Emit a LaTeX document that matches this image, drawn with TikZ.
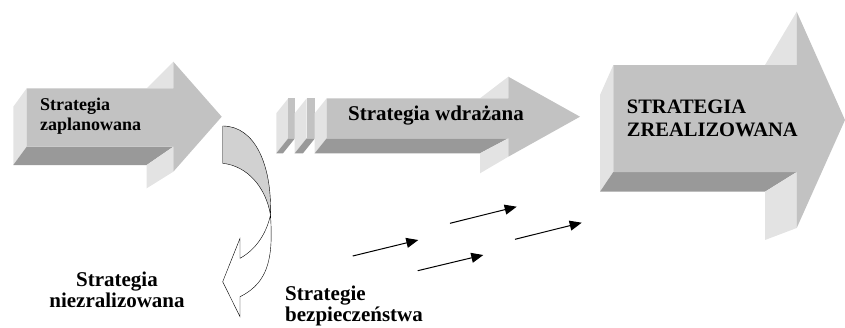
\documentclass[tikz,border=0pt]{standalone}
\usepackage{fontspec}
\setmainfont{Liberation Serif}
\usetikzlibrary{arrows.meta}
\definecolor{facegray}{gray}{0.76}
\definecolor{sidegray}{gray}{0.89}
\definecolor{undergray}{gray}{0.60}
\definecolor{bendgray}{gray}{0.82}
\tikzset{
  facefront/.style={fill=facegray},
  faceside/.style={fill=sidegray},
  faceunder/.style={fill=undergray},
  tag/.style={font=\bfseries\fontsize{21}{21}\selectfont, inner sep=0pt, align=left},
  drift/.style={-{Triangle[length=12pt,width=10pt]}, line width=1pt},
}
\begin{document}
\begin{tikzpicture}[x=1pt,y=-1pt]
  \useasboundingbox (0,0) rectangle (845,327);
  % planned strategy
  \fill[faceside] (13.3,106.7) -- (26.7,88.3) -- (26.7,146.7) -- (13.3,165) -- cycle;
  \fill[faceunder] (26.7,146.7) -- (173.3,146.7) -- (146.7,165) -- (13.3,165) -- cycle;
  \fill[faceside] (146.7,88.3) -- (173.3,61.7) -- (173.3,88.3) -- cycle;
  \fill[faceside] (146.7,165) -- (173.3,146.7) -- (173.3,171.7) -- (146.7,188.3) -- cycle;
  \fill[facefront] (26.7,88.3) -- (173.3,88.3) -- (173.3,61.7) -- (221.7,116.7)
    -- (173.3,171.7) -- (173.3,146.7) -- (26.7,146.7) -- cycle;
  \node[tag, font=\bfseries\fontsize{18}{20.7}\selectfont, anchor=base west]
    (planned) at (40,130.7) {Strategia\\zaplanowana};
  % strategy being implemented
  \fill[faceside] (276.3,113.3) -- (288.3,98.3) -- (288.3,138.3) -- (276.3,153.3) -- cycle;
  \fill[facefront] (288.3,98.3) rectangle (295,138.3);
  \fill[faceunder] (288.3,138.3) -- (295,138.3) -- (283,153.3) -- (276.3,153.3) -- cycle;
  \fill[faceside] (294.7,113.3) -- (306.7,98.3) -- (306.7,138.3) -- (294.7,153.3) -- cycle;
  \fill[facefront] (306.7,98.3) rectangle (315,138.3);
  \fill[faceunder] (306.7,138.3) -- (315,138.3) -- (303,153.3) -- (294.7,153.3) -- cycle;
  \fill[faceside] (314.7,113.3) -- (326.7,98.3) -- (326.7,138.3) -- (314.7,153.3) -- cycle;
  \fill[faceunder] (326.7,138.3) -- (508.3,138.3) -- (480,153.3) -- (314.7,153.3) -- cycle;
  \fill[faceside] (480,98.3) -- (508.3,76.7) -- (508.3,98.3) -- cycle;
  \fill[faceside] (480,153.3) -- (508.3,138.3) -- (508.3,156.7) -- (480,173.3) -- cycle;
  \fill[facefront] (326.7,98.3) -- (508.3,98.3) -- (508.3,76.7) -- (580,116.7)
    -- (508.3,156.7) -- (508.3,138.3) -- (326.7,138.3) -- cycle;
  \node[tag, anchor=base west] (ongoing) at (348,120) {Strategia wdrażana};
  % realised strategy
  \fill[faceside] (600,95) -- (613.3,65) -- (613.3,172) -- (600,191.7) -- cycle;
  \fill[faceunder] (613.3,172) -- (796.7,172) -- (765,191.7) -- (600,191.7) -- cycle;
  \fill[faceside] (765,65) -- (796.7,11.7) -- (796.7,65) -- cycle;
  \fill[faceside] (765,191.7) -- (796.7,172) -- (796.7,228) -- (765,240) -- cycle;
  \fill[facefront] (613.3,65) -- (796.7,65) -- (796.7,11.7) -- (845,120)
    -- (796.7,228) -- (796.7,172) -- (613.3,172) -- cycle;
  \node[tag, font=\bfseries\fontsize{20.5}{23.4}\selectfont, anchor=base west]
    (realised) at (626.7,136.7) {STRATEGIA\\ZREALIZOWANA};
  % unrealised strategy
  \draw[fill=bendgray] (222.7,126) .. controls (255,126) and (272,165) .. (270.5,215)
    .. controls (266,188) and (248,166) .. (222.7,163.3) -- cycle;
  \draw[fill=white] (270.5,215) .. controls (273,255) and (270,282) .. (240,296.7)
    -- (240,316.7) -- (222.7,281.7) -- (240,238.3) -- (240,258.3)
    .. controls (255,250) and (266,235) .. (270.5,215) -- cycle;
  \node[tag, align=center, anchor=base] (lost) at (117,307) {Strategia\\niezralizowana};
  % emergent strategies
  \coordinate (d1) at (352.7,256);
  \coordinate (d2) at (418.3,240);
  \coordinate (d3) at (450,223.3);
  \coordinate (d4) at (516.7,206.7);
  \coordinate (d5) at (417.7,270.7);
  \coordinate (d6) at (483.3,255);
  \coordinate (d7) at (515,239.3);
  \coordinate (d8) at (581.7,222.7);
  \draw[drift] (d1) -- (d2);
  \draw[drift] (d3) -- (d4);
  \draw[drift] (d5) -- (d6);
  \draw[drift] (d7) -- (d8);
  \node[tag, anchor=base west] (safety) at (285,321) {Strategie\\bezpieczeństwa};
\end{tikzpicture}
\end{document}
